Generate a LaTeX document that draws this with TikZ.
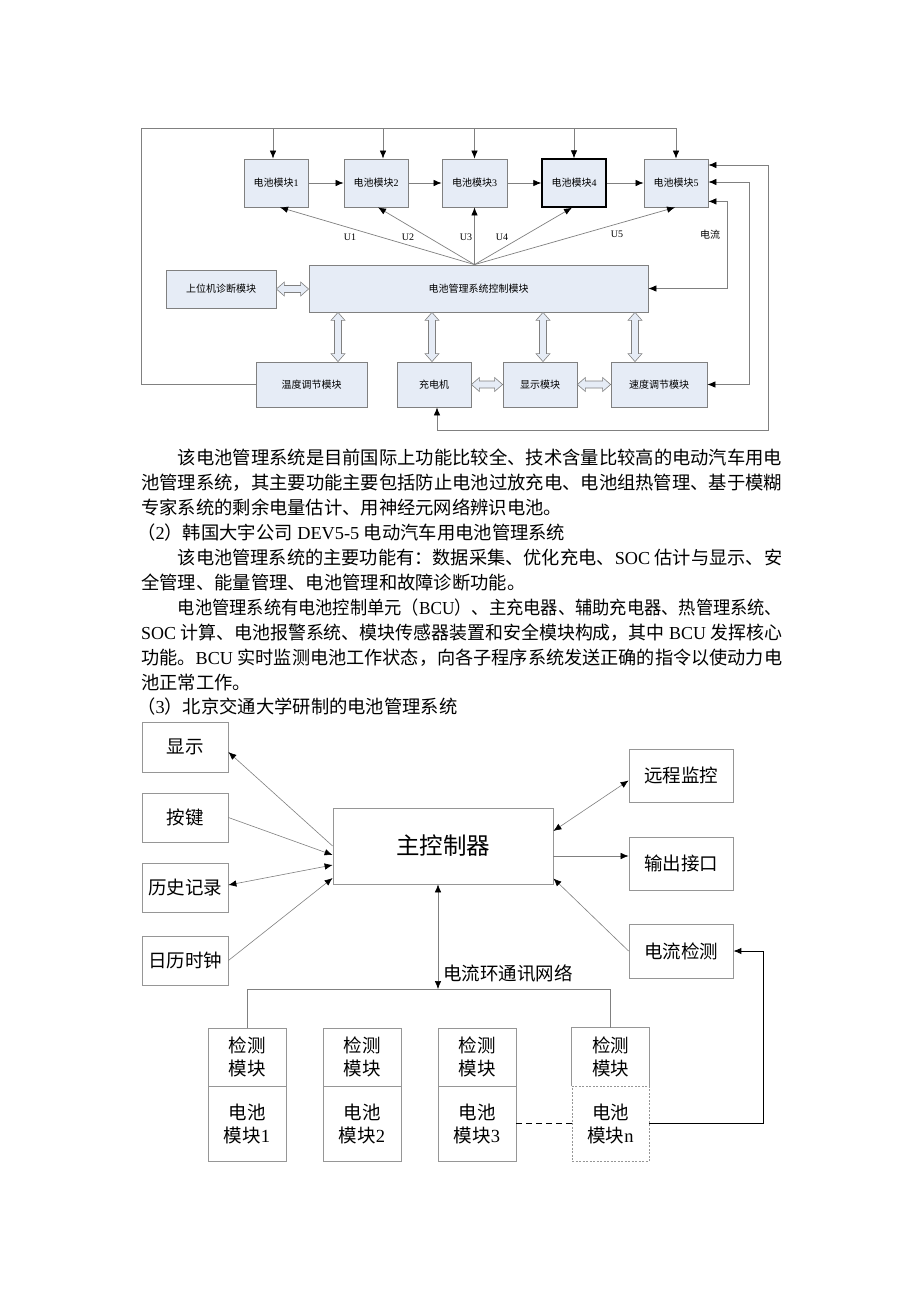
\documentclass[tikz,border=0pt]{standalone}
\usepackage{fontspec}
\usepackage{graphicx}
\setmainfont{Liberation Serif}
\newfontfamily\cjk{Noto Sans CJK SC}
\newcommand\lat[1]{{\rmfamily #1}}
\newcommand\fitline[2]{\resizebox{#1}{\height}{#2}}
\usetikzlibrary{arrows.meta,calc}
\definecolor{boxfill}{RGB}{230,236,246}
\definecolor{boxdraw}{RGB}{128,128,128}
\definecolor{lin}{RGB}{128,128,128}
\definecolor{bbox}{RGB}{150,150,150}
\newcommand\hollowV[2]{\filldraw[hol] let \p1=(#1), \p2=(#2) in
 (\x1,\y1) -- (\x1+7pt,\y1-8pt) -- (\x1+3.5pt,\y1-8pt) -- (\x1+3.5pt,\y2+8pt) -- (\x1+7pt,\y2+8pt) -- (\x1,\y2)
 -- (\x1-7pt,\y2+8pt) -- (\x1-3.5pt,\y2+8pt) -- (\x1-3.5pt,\y1-8pt) -- (\x1-7pt,\y1-8pt) -- cycle;}
\newcommand\hollowH[2]{\filldraw[hol] let \p1=(#1), \p2=(#2) in
 (\x1,\y1) -- (\x1+8pt,\y1+7pt) -- (\x1+8pt,\y1+3.5pt) -- (\x2-8pt,\y1+3.5pt) -- (\x2-8pt,\y1+7pt) -- (\x2,\y1)
 -- (\x2-8pt,\y1-7pt) -- (\x2-8pt,\y1-3.5pt) -- (\x1+8pt,\y1-3.5pt) -- (\x1+8pt,\y1-7pt) -- cycle;}
\begin{document}
\begin{tikzpicture}[x=1pt,y=-1pt,
  >={Latex[length=8pt,width=6.5pt,color=black]},
  tb/.style={draw=boxdraw, fill=boxfill, line width=0.8pt, inner sep=0pt, font=\cjk\fontsize{10pt}{12pt}\selectfont},
  lab/.style={inner sep=0pt, font=\fontsize{10pt}{12pt}\selectfont},
  gl/.style={draw=lin, line width=0.7pt},
  hol/.style={draw=boxdraw, fill=boxfill, line width=0.6pt},
  bt/.style={anchor=base west, inner sep=0pt, font=\cjk\fontsize{18.3pt}{22pt}\selectfont},
  bb/.style={draw=bbox, line width=0.8pt, inner sep=0pt, align=center, font=\cjk\fontsize{18.5pt}{23pt}\selectfont},
  bl/.style={draw=lin, line width=0.6pt}]
\useasboundingbox (0,0) rectangle (920,1302);
\fill[white] (0,0) rectangle (920,1302);

% ---------- top diagram ----------
\node[tb, minimum width=64pt, minimum height=48pt] (m1) at (276,183) {电池模块\lat{1}};
\node[tb, minimum width=64pt, minimum height=48pt] (m2) at (376,183) {电池模块\lat{2}};
\node[tb, minimum width=65pt, minimum height=48pt] (m3) at (474.5,183) {电池模块\lat{3}};
\node[tb, minimum width=64pt, minimum height=48pt, draw=black, line width=1.4pt] (m4) at (574,183) {电池模块\lat{4}};
\node[tb, minimum width=64pt, minimum height=48pt] (m5) at (676,183) {电池模块\lat{5}};
\node[tb, minimum width=339pt, minimum height=47pt] (ctrl) at (478.5,288.5) {电池管理系统控制模块};
\node[tb, minimum width=110pt, minimum height=38pt] (host) at (221,289) {上位机诊断模块};
\node[tb, minimum width=111pt, minimum height=45pt] (temp) at (311.5,384.5) {温度调节模块};
\node[tb, minimum width=74pt, minimum height=45pt] (chg) at (434,384.5) {充电机};
\node[tb, minimum width=74pt, minimum height=45pt] (disp) at (540,384.5) {显示模块};
\node[tb, minimum width=96pt, minimum height=45pt] (spd) at (659,384.5) {速度调节模块};

\draw[gl,->] (m1) -- (m2);
\draw[gl,->] (m2) -- (m3);
\draw[gl,->] (m3) -- (m4);
\draw[gl,->] (m4) -- (m5);

\coordinate (tl) at (141,128);
\draw[gl,->] (temp.west) -| (tl) -| (m5.north);
\coordinate (d1) at (273,128);
\coordinate (d2) at (383,128);
\coordinate (d3) at (474.5,128);
\coordinate (d4) at (574,128);
\draw[gl,->] (d1) -- (d1 |- m1.north);
\draw[gl,->] (d2) -- (d2 |- m2.north);
\draw[gl,->] (d3) -- (d3 |- m3.north);
\draw[gl,->] (d4) -- (d4 |- m4.north);

\coordinate (F) at (m3.south |- ctrl.north);
\draw[gl,->] (F) -- ([xshift=4pt]m1.south);
\draw[gl,->] (F) -- ([xshift=2pt]m2.south);
\draw[gl,->] (F) -- (m3.south);
\draw[gl,->] (F) -- ([xshift=-2pt]m4.south);
\draw[gl,->] (F) -- ([xshift=-1pt]m5.south);
\node[lab] (u1) at (350,237) {U1};
\node[lab] (u2) at (408,237) {U2};
\node[lab] (u3) at (466,237) {U3};
\node[lab] (u4) at (502,237) {U4};
\node[lab] (u5) at (617,234) {U5};
\node[lab, font=\cjk\fontsize{10pt}{12pt}\selectfont] (dl1) at (710,235) {电流};

\draw[gl,<->] ([yshift=6pt]m5.south east) -- ++(19,0) |- (ctrl.east);
\draw[gl,<->] ([yshift=1pt]m5.east) -- ++(41,0) |- (spd.east);
\draw[gl,<->] ([yshift=18pt]m5.east) -- ++(60,0) -- ++(0,265) -| ([xshift=3pt]chg.south);

\coordinate (v1) at (338,0);
\coordinate (v2) at (432,0);
\coordinate (v3) at (543,0);
\coordinate (v4) at (635,0);
\hollowV{ctrl.south -| v1}{temp.north -| v1}
\hollowV{ctrl.south -| v2}{chg.north -| v2}
\hollowV{ctrl.south -| v3}{disp.north -| v3}
\hollowV{ctrl.south -| v4}{spd.north -| v4}
\hollowH{host.east}{ctrl.west |- host.east}
\hollowH{chg.east}{disp.west}
\hollowH{disp.east}{spd.west}

% ---------- text ----------
\node[bt] (p1) at (177.6,464) {\fitline{604.4pt}{该电池管理系统是目前国际上功能比较全、技术含量比较高的电动汽车用电}};
\node[bt] (p2) at (141,489) {\fitline{641pt}{池管理系统，其主要功能主要包括防止电池过放充电、电池组热管理、基于模糊}};
\node[bt] (p3) at (141,514) {专家系统的剩余电量估计、用神经元网络辨识电池。};
\node[bt] (p4) at (137,539) {（\lat{2}）韩国大宇公司\lat{\ DEV5-5\ }电动汽车用电池管理系统};
\node[bt] (p5) at (177.6,564) {\fitline{604.4pt}{该电池管理系统的主要功能有：数据采集、优化充电、\lat{SOC\ }估计与显示、安}};
\node[bt] (p6) at (141,589) {全管理、能量管理、电池管理和故障诊断功能。};
\node[bt] (p7) at (177.6,614) {\fitline{604.4pt}{电池管理系统有电池控制单元（\lat{BCU}）、主充电器、辅助充电器、热管理系统、}};
\node[bt] (p8) at (141,639) {\fitline{641pt}{\lat{SOC\ }计算、电池报警系统、模块传感器装置和安全模块构成，其中\lat{\ BCU\ }发挥核心}};
\node[bt] (p9) at (141,664) {\fitline{641pt}{功能。\lat{BCU\ }实时监测电池工作状态，向各子程序系统发送正确的指令以使动力电}};
\node[bt] (p10) at (141,689) {池正常工作。};
\node[bt] (p11) at (137,713) {（\lat{3}）北京交通大学研制的电池管理系统};

% ---------- bottom diagram ----------
\node[bb, minimum width=86pt, minimum height=50pt] (sx) at (185,747) {显示};
\node[bb, minimum width=86pt, minimum height=49pt] (aj) at (185,817.5) {按键};
\node[bb, minimum width=86pt, minimum height=49pt] (ls) at (185,887.5) {历史记录};
\node[bb, minimum width=86pt, minimum height=49pt] (rl) at (185,960.5) {日历时钟};
\node[bb, minimum width=220pt, minimum height=76pt, font=\cjk\fontsize{23.5pt}{28pt}\selectfont] (mc) at (443,846) {主控制器};
\node[bb, minimum width=104pt, minimum height=53pt] (yc) at (681,775.5) {远程监控};
\node[bb, minimum width=104pt, minimum height=53pt] (sc) at (681,863.5) {输出接口};
\node[bb, minimum width=104pt, minimum height=54pt] (dl) at (681,951) {电流检测};

\draw[bl,->] (mc.west) -- ([yshift=-5pt]sx.east);
\draw[bl,->] (aj.east) -- ([yshift=-9pt]mc.west);
\draw[bl,<->] ([yshift=2.5pt]ls.east) -- ([yshift=-19pt]mc.west);
\draw[bl,->] (rl.east) -- ([yshift=-32pt]mc.west);
\draw[bl,<->] ([yshift=15pt]mc.east) -- ([yshift=-5pt]yc.west);
\draw[bl,->] ([yshift=-10pt]mc.east) -- ([yshift=-10pt]mc.east -| sc.west);
\draw[bl,->] (dl.west) -- ([yshift=6pt]mc.south east);

\node[bb, minimum width=78pt, minimum height=58pt] (t1) at (247,1057) {检测\\模块};
\node[bb, minimum width=78pt, minimum height=75pt] (b1) at (247,1123.5) {电池\\模块\lat{1}};
\node[bb, minimum width=78pt, minimum height=58pt] (t2) at (362,1057) {检测\\模块};
\node[bb, minimum width=78pt, minimum height=75pt] (b2) at (362,1123.5) {电池\\模块\lat{2}};
\node[bb, minimum width=78pt, minimum height=58pt] (t3) at (477,1057) {检测\\模块};
\node[bb, minimum width=78pt, minimum height=75pt] (b3) at (477,1123.5) {电池\\模块\lat{3}};
\node[bb, draw=none, minimum width=77pt, minimum height=58pt] (tn) at (610.5,1057) {检测\\模块};
\node[bb, minimum width=77pt, minimum height=75pt, dash pattern=on 2pt off 1.5pt] (bn) at (610.5,1123.5) {电池\\模块\lat{n}};
\draw[draw=bbox, line width=0.8pt] (tn.south west) |- (tn.north east) -- (tn.south east);

\coordinate (bus) at (0,989);
\draw[bl] (t1.north) |- (bus -| tn.north) -- (tn.north);
\draw[bl,<->] ([xshift=-5pt]mc.south) -- ([xshift=-5pt]mc.south |- bus);
\node[anchor=west, inner sep=0pt, font=\cjk\fontsize{18.5pt}{23pt}\selectfont] (net) at (443,973) {电流环通讯网络};

\draw[black, line width=0.9pt, dash pattern=on 6pt off 4pt] (b3.east) -- (bn.west);
\draw[black, line width=0.9pt, ->] (bn.east) -- ++(114,0) |- (dl.east);
\end{tikzpicture}
\end{document}
